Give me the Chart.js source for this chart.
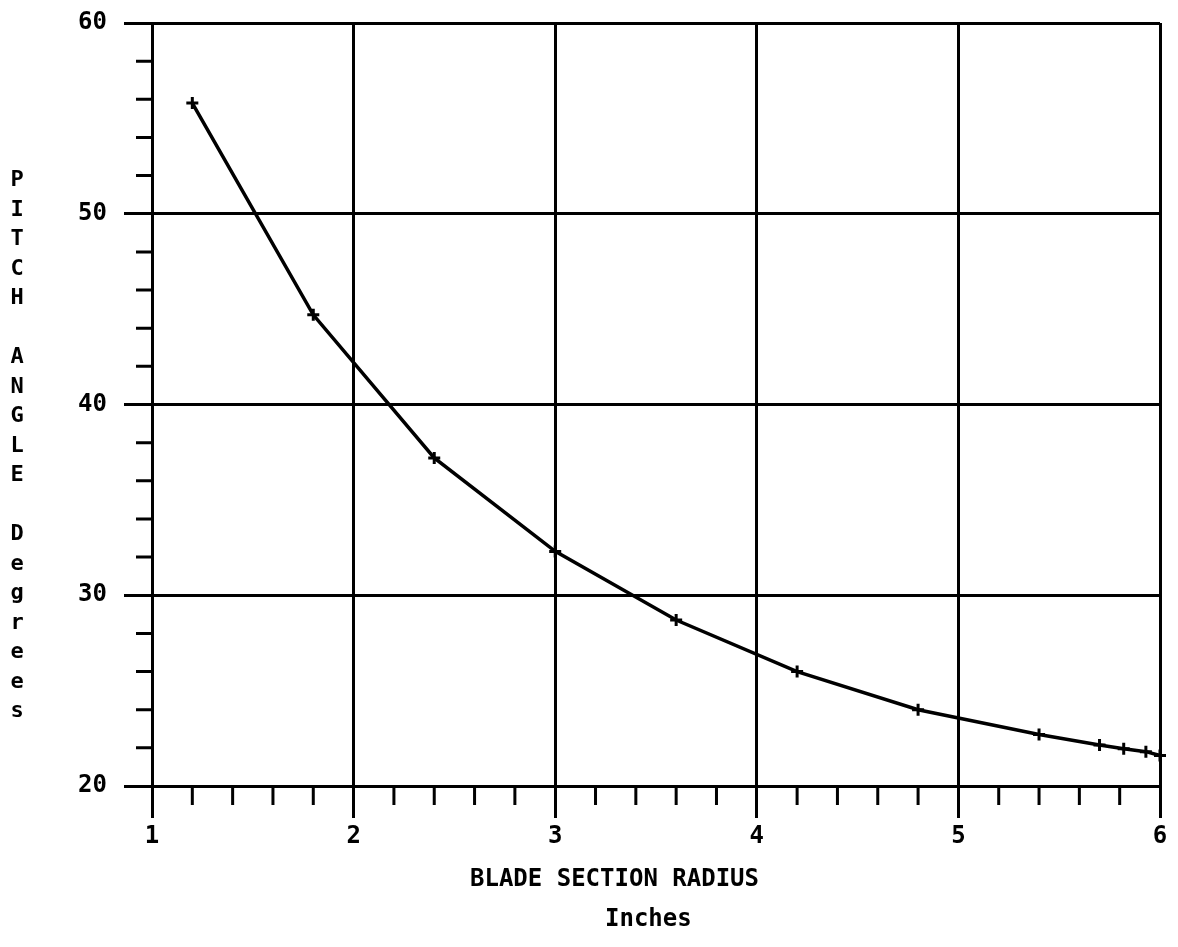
<!DOCTYPE html>
<html>
<head>
<meta charset="utf-8">
<script src="https://cdn.jsdelivr.net/npm/chart.js@4"></script>
<style>
  html, body { margin: 0; padding: 0; background: #fff; }
  #wrap { position: relative; width: 1178px; height: 947px; }
  .lbl { position: absolute; font-family: "DejaVu Sans Mono", monospace; font-weight: bold; color: #000; white-space: pre; }
  #ytitle { left: 5px; top: 164px; width: 24px; text-align: center; font-size: 22px; line-height: 29.5px; }
  #xtitle { left: 470px; top: 863px; font-size: 24px; line-height: 30px; }
  #xunit { left: 605px; top: 903px; font-size: 24px; line-height: 30px; }
</style>
</head>
<body>
<div id="wrap">
  <canvas id="chart" width="1178" height="947"></canvas>
  <div id="ytitle" class="lbl"></div>
  <div id="xtitle" class="lbl">BLADE SECTION RADIUS</div>
  <div id="xunit" class="lbl">Inches</div>
</div>
<script>
// blade section radius (inches) and pitch angle (degrees)
const radius = [1.2, 1.8, 2.4, 3.0, 3.6, 4.2, 4.8, 5.4, 5.7, 5.82, 5.93, 6.0];
const pitch = [55.8, 44.7, 37.2, 32.3, 28.7, 26.0, 24.0, 22.7, 22.15, 21.95, 21.8, 21.6];

const xMin = 1, xMax = 6;
const yMin = 20, yMax = 60;

document.getElementById('ytitle').textContent =
  ['P','I','T','C','H','','A','N','G','L','E','','D','e','g','r','e','e','s'].join('\n');

// short ticks between the labelled ones
const minorTicks = {
  id: 'minorTicks',
  afterDraw(chart) {
    const { ctx, chartArea, scales: { x, y } } = chart;
    ctx.save();
    ctx.strokeStyle = '#000';
    ctx.lineWidth = 3;
    ctx.beginPath();
    for (let i = 1; i < (xMax - xMin) * 5; i++) {
      if (i % 5 === 0) continue;
      const px = x.getPixelForValue(xMin + i * 0.2);
      ctx.moveTo(px, chartArea.bottom);
      ctx.lineTo(px, chartArea.bottom + 19);
    }
    for (let i = 1; i < (yMax - yMin) / 2; i++) {
      if (i % 5 === 0) continue;
      const py = y.getPixelForValue(yMin + i * 2);
      ctx.moveTo(chartArea.left, py);
      ctx.lineTo(chartArea.left - 16, py);
    }
    ctx.stroke();
    ctx.restore();
  }
};

const tickFont = { family: '"DejaVu Sans Mono", monospace', size: 24, weight: 'bold' };

new Chart(document.getElementById('chart'), {
  type: 'line',
  data: {
    datasets: [{
      data: radius.map((r, i) => ({ x: r, y: pitch[i] })),
      borderColor: '#000',
      borderWidth: 3.5,
      pointStyle: 'cross',
      pointRadius: 6,
      pointBorderWidth: 3,
      pointBorderColor: '#000',
      tension: 0,
      clip: false
    }]
  },
  options: {
    responsive: false,
    animation: false,
    layout: { padding: { left: 0, top: 23, right: 18, bottom: 0 } },
    plugins: { legend: { display: false }, tooltip: { enabled: false } },
    scales: {
      x: {
        type: 'linear',
        min: xMin,
        max: xMax,
        afterFit(scale) { scale.height = 161; scale.paddingLeft = 0; scale.paddingRight = 0; },
        ticks: { stepSize: 1, color: '#000', font: tickFont, padding: 4, maxRotation: 0 },
        grid: { color: '#000', lineWidth: 3, tickLength: 32, tickWidth: 3, tickColor: '#000' },
        border: { color: '#000', width: 3 }
      },
      y: {
        min: yMin,
        max: yMax,
        afterFit(scale) { scale.width = 152; scale.paddingTop = 0; scale.paddingBottom = 0; },
        ticks: { stepSize: 10, color: '#000', font: tickFont, padding: 17 },
        grid: { color: '#000', lineWidth: 3, tickLength: 28, tickWidth: 3, tickColor: '#000' },
        border: { color: '#000', width: 3 }
      }
    }
  },
  plugins: [minorTicks]
});
</script>
</body>
</html>
